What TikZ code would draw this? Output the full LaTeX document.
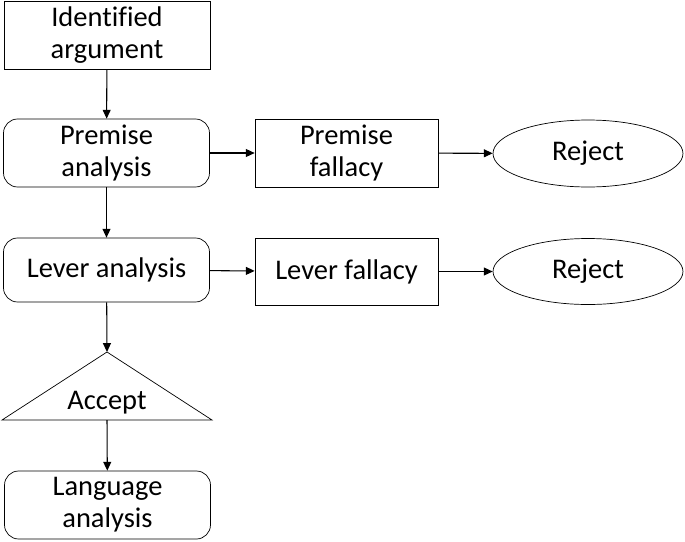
\documentclass[tikz,border=0pt]{standalone}
\usepackage{fontspec}
\setmainfont{Carlito}[Ligatures=CommonOff]
\usetikzlibrary{arrows.meta,shapes.geometric}

\tikzset{
    flowbox/.style={draw, thin, minimum width=4.12cm, minimum height=1.36cm, align=center, inner sep=1pt},
    roundbox/.style={flowbox, rounded corners=8pt},
    fallbox/.style={draw, thin, minimum width=3.66cm, minimum height=1.36cm, align=center, inner sep=1pt},
    rejectell/.style={draw, thin, ellipse, minimum width=3.8cm, minimum height=1.34cm, inner sep=0pt},
    flowarrow/.style={-{Triangle[length=5pt,width=4.5pt]}, line width=0.6pt}
}

\begin{document}
\begin{tikzpicture}[x=0.02cm, y=-0.02cm, font=\fontsize{16.2}{18.2}\selectfont, thin]
        \useasboundingbox (0,0) rectangle (685,541);
        % left column
        \node[flowbox] (ident) at (107,35.5) {Identified\\argument};
        \node[roundbox] (premana) at (106.5,153) {Premise\\analysis};
        \node[roundbox, minimum height=1.28cm] (levana) at (106.5,270) {Lever analysis};
        \node[roundbox] (langana) at (107.5,505) {Language\\analysis};
        % accept triangle
        \coordinate (acctop) at (107,352);
        \coordinate (accbase) at (107,420);
        \draw (acctop) -- (2,420) -- (212,420) -- cycle;
        \node (accept) at (107,403) {Accept};
        % fallacies
        \node[fallbox] (premfal) at (346.5,153) {Premise\\fallacy};
        \node[fallbox, minimum height=1.34cm] (levfal) at (346.5,271.5) {Lever fallacy};
        \node[rejectell] (rejone) at (588,153.5) {Reject};
        \node[rejectell, minimum height=1.32cm] (rejtwo) at (588,271.5) {Reject};
        % arrows
        \draw[flowarrow] (ident) -- (premana);
        \draw[flowarrow] (premana) -- (premfal);
        \draw[flowarrow] (premfal) -- (rejone);
        \draw[flowarrow] (premana) -- (levana);
        \draw[flowarrow] (levana) -- (levfal);
        \draw[flowarrow] (levfal) -- (rejtwo);
        \draw[flowarrow] (levana) -- (acctop);
        \draw[flowarrow] (accbase) -- (langana);
    \end{tikzpicture}
\end{document}
